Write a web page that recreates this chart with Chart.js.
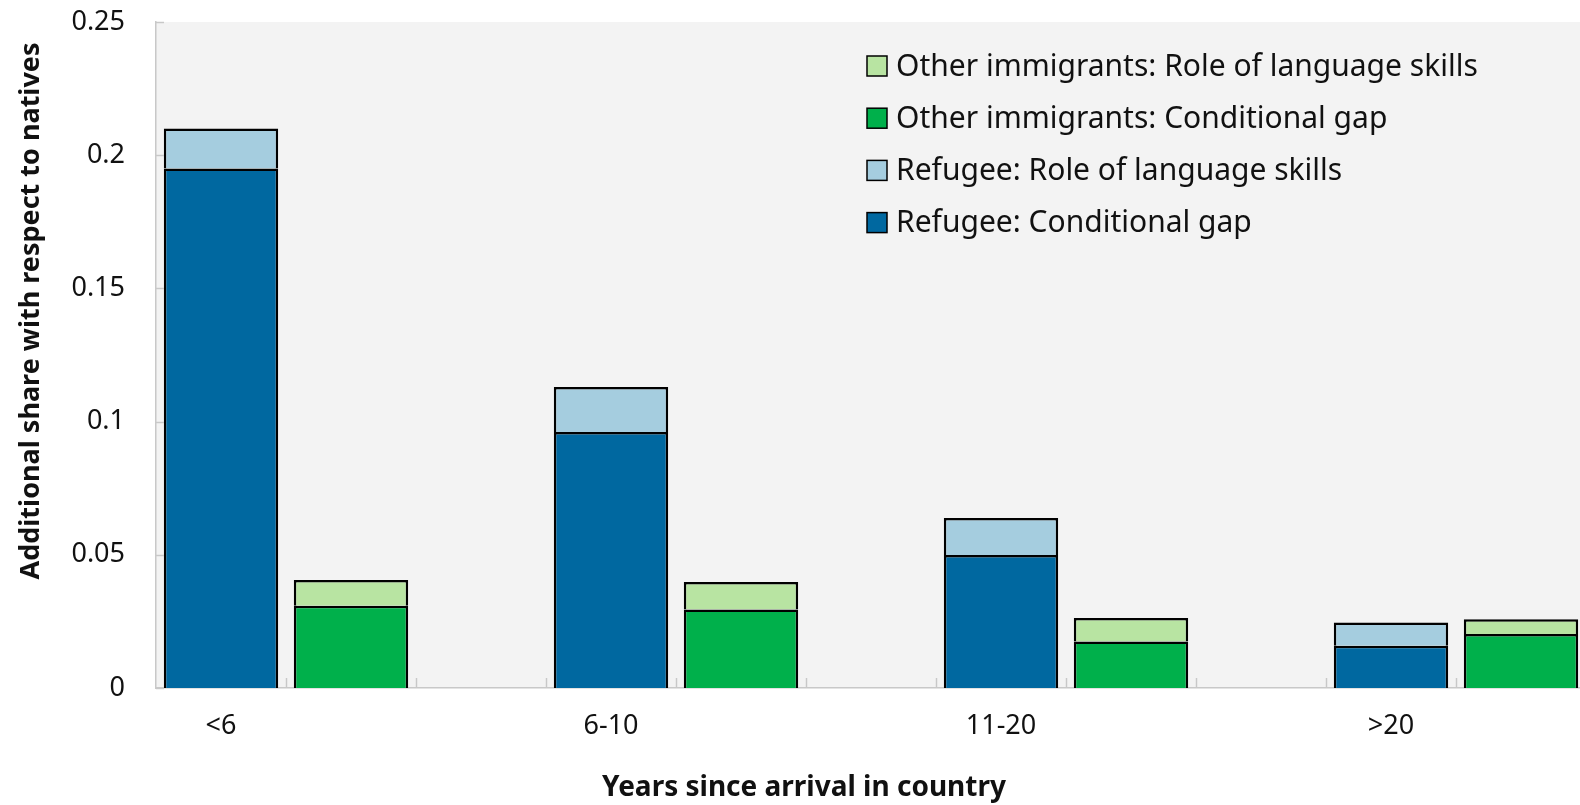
<!DOCTYPE html>
<html>
<head>
<meta charset="utf-8">
<title>Years since arrival in country</title>
<script src="https://cdn.jsdelivr.net/npm/chart.js@4.4.1/dist/chart.umd.min.js"></script>
<style>
    html, body { margin: 0; padding: 0; background: #fff; overflow: hidden; }
    #wrap { width: 1586px; height: 805px; }
</style>
</head>
<body>
<div id="wrap"><canvas id="arrivalChart" width="1586" height="805"></canvas></div>
<script>
// dữ liệu
const categories = ['<6', '6-10', '11-20', '>20'];
const refugeeGap = [0.195, 0.0961, 0.0499, 0.0159];
const refugeeLanguage = [0.015, 0.0169, 0.0139, 0.0087];
const otherGap = [0.0309, 0.0295, 0.0175, 0.0203];
const otherLanguage = [0.0096, 0.0103, 0.0088, 0.0055];
const yTicks = [0, 0.05, 0.1, 0.15, 0.2, 0.25];

const FONT = "'Noto Sans', 'Open Sans', sans-serif";
Chart.defaults.font.family = FONT;
Chart.defaults.color = '#111';

// mỗi nhóm: cột refugee, cột other, rồi một ô trống
const slotLabels = [];
const refugeeSlot = [];
const otherSlot = [];
categories.forEach((c, i) => {
    if (i > 0) slotLabels.push('');
    refugeeSlot.push(slotLabels.length); slotLabels.push(c);
    otherSlot.push(slotLabels.length); slotLabels.push('');
});

function spread(values, slots) {
    const out = slotLabels.map(() => null);
    slots.forEach((s, i) => { out[s] = values[i]; });
    return out;
}

const series = [
    { label: 'Refugee: Conditional gap', data: spread(refugeeGap, refugeeSlot), color: '#0068a0' },
    { label: 'Refugee: Role of language skills', data: spread(refugeeLanguage, refugeeSlot), color: '#a5cddf' },
    { label: 'Other immigrants: Conditional gap', data: spread(otherGap, otherSlot), color: '#00b04b' },
    { label: 'Other immigrants: Role of language skills', data: spread(otherLanguage, otherSlot), color: '#b8e4a2' }
];

// nền xám + vạch chia nhỏ phía trong trục
const plotArea = {
    id: 'plotArea',
    beforeDraw(chart) {
        const { ctx, chartArea: a } = chart;
        ctx.save();
        ctx.fillStyle = '#f3f3f3';
        ctx.fillRect(a.left, a.top, a.right - a.left, a.bottom - a.top);
        ctx.restore();
    },
    afterDraw(chart) {
        const { ctx, chartArea: a, scales: { x, y } } = chart;
        ctx.save();
        ctx.strokeStyle = '#c8c8c8';
        ctx.lineWidth = 1.5;
        yTicks.forEach(v => {
            const py = Math.round(y.getPixelForValue(v)) + 0.5;
            ctx.beginPath(); ctx.moveTo(a.left, py); ctx.lineTo(a.left + 8, py); ctx.stroke();
        });
        const half = (x.getPixelForValue(1) - x.getPixelForValue(0)) / 2;
        for (let i = 0; i < slotLabels.length; i++) {
            const px = Math.round(x.getPixelForValue(i) + half) + 0.5;
            ctx.beginPath(); ctx.moveTo(px, a.bottom); ctx.lineTo(px, a.bottom - 10); ctx.stroke();
        }
        ctx.restore();
    }
};

// chú thích nằm trong vùng vẽ (thứ tự đảo ngược) + tiêu đề hai trục
const labelsLayer = {
    id: 'labelsLayer',
    afterDraw(chart) {
        const ctx = chart.ctx;
        ctx.save();
        ctx.font = `30px ${FONT}`;
        ctx.textBaseline = 'middle';
        [...series].reverse().forEach((s, i) => {
            const cy = 66 + i * 52.2;
            ctx.fillStyle = s.color;
            ctx.fillRect(867, cy - 10, 20, 20);
            ctx.strokeStyle = '#000';
            ctx.lineWidth = 1.5;
            ctx.strokeRect(867, cy - 10, 20, 20);
            ctx.fillStyle = '#111';
            ctx.fillText(s.label, 896, cy + 1);
        });

        ctx.font = `bold 28px ${FONT}`;
        ctx.textAlign = 'center';
        ctx.fillText('Years since arrival in country', 804, 788);

        ctx.font = `bold 27px ${FONT}`;
        ctx.translate(31, 311);
        ctx.rotate(-Math.PI / 2);
        ctx.fillText('Additional share with respect to natives', 0, 0);
        ctx.restore();
    }
};

new Chart(document.getElementById('arrivalChart'), {
    type: 'bar',
    data: {
        labels: slotLabels,
        datasets: series.map(s => ({
            label: s.label,
            data: s.data,
            backgroundColor: s.color,
            borderColor: '#000',
            borderWidth: 2.5,
            categoryPercentage: 1,
            barPercentage: 0.88
        }))
    },
    options: {
        responsive: false,
        animation: false,
        layout: { padding: { top: 22, right: 0, left: 0, bottom: 0 } },
        plugins: { legend: { display: false }, tooltip: { enabled: false } },
        scales: {
            x: {
                stacked: true,
                z: 1,
                grid: { display: false, drawTicks: false },
                border: { display: true, color: '#c8c8c8', width: 1.5 },
                ticks: { autoSkip: false, maxRotation: 0, padding: 22, font: { size: 27 }, color: '#111' },
                afterFit(scale) {
                    scale.height = 805 - 688;
                    scale.paddingLeft = 0;
                    scale.paddingRight = 0;
                }
            },
            y: {
                stacked: true,
                min: 0,
                max: 0.25,
                grid: { display: false, drawTicks: false },
                border: { display: true, color: '#c8c8c8', width: 1.5 },
                ticks: {
                    stepSize: 0.05,
                    padding: 31,
                    font: { size: 27 },
                    color: '#111',
                    callback: v => String(+v.toFixed(2))
                },
                afterFit(scale) {
                    scale.width = 156;
                    scale.paddingTop = 0;
                    scale.paddingBottom = 0;
                }
            }
        }
    },
    plugins: [plotArea, labelsLayer]
});
</script>
</body>
</html>
